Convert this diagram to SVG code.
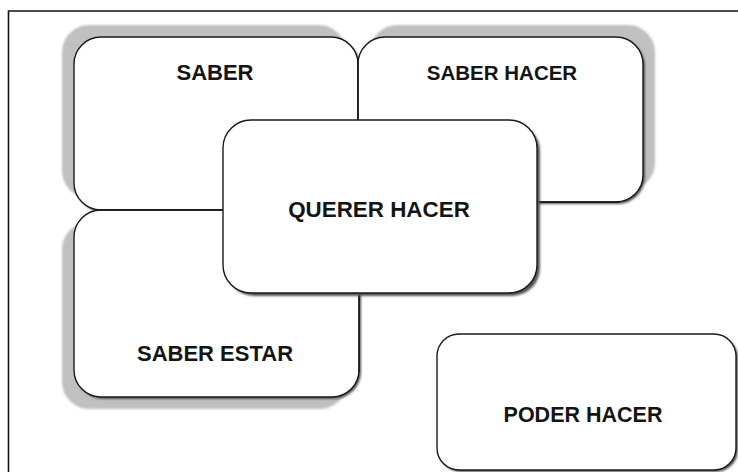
<svg xmlns="http://www.w3.org/2000/svg" width="738" height="472" viewBox="0 0 738 472">
<defs>
<filter id="soft" x="-10%" y="-10%" width="120%" height="120%"><feGaussianBlur stdDeviation="1.2"/></filter>
<filter id="drop" x="-10%" y="-10%" width="120%" height="120%"><feGaussianBlur stdDeviation="1"/></filter>
</defs>
<style>
.sh{fill:#c0c0c0;filter:url(#soft)}
.ds{fill:#555;filter:url(#drop)}
.box{fill:#fff;stroke:#1a1a1a;stroke-width:1.4}
.t{font-family:"Liberation Sans",Arial,sans-serif;font-weight:bold;fill:#141414;text-anchor:middle}
.frame{stroke:#111;stroke-width:1.6;fill:none}
</style>
<rect width="738" height="472" fill="#fff"/>
<g id="frame">
<path class="frame" d="M8.5 472 V11 H738"/>
</g>
<g id="shadows">
<rect class="sh" x="62" y="25" width="284" height="173" rx="27"/>
<rect class="sh" x="370" y="25" width="285" height="165" rx="27"/>
<rect class="sh" x="62" y="222" width="285" height="187" rx="27"/>
</g>
<g id="saber">
<rect class="ds" x="76" y="39" width="284" height="173" rx="27"/>
<rect class="box" x="74" y="37" width="284" height="173" rx="27"/>
<text class="t" x="215" y="80" font-size="22">SABER</text>
</g>
<g id="saber-hacer">
<rect class="ds" x="360" y="39" width="285" height="165" rx="27"/>
<rect class="box" x="358" y="37" width="285" height="165" rx="27"/>
<text class="t" x="502" y="80" font-size="20.5">SABER HACER</text>
</g>
<g id="saber-estar">
<rect class="ds" x="76" y="212" width="285" height="187" rx="27"/>
<rect class="box" x="74" y="210" width="285" height="187" rx="27"/>
<text class="t" x="215" y="361" font-size="22">SABER ESTAR</text>
</g>
<g id="connectors">
<path d="M358 62 V120 M97 210 H223 M537 202 H620 M359 293 V372" stroke="#1a1a1a" stroke-width="1.4" fill="none"/>
</g>
<g id="querer-hacer">
<rect class="ds" x="226" y="123" width="314" height="173" rx="28"/>
<rect class="box" x="223" y="120" width="314" height="173" rx="28"/>
<text class="t" x="379" y="217" font-size="22.4">QUERER HACER</text>
</g>
<g id="poder-hacer">
<rect class="ds" x="439" y="336" width="299" height="136" rx="22"/>
<rect class="box" x="437" y="334" width="299" height="136" rx="22"/>
<text class="t" x="583" y="422" font-size="21.5">PODER HACER</text>
</g>
</svg>
